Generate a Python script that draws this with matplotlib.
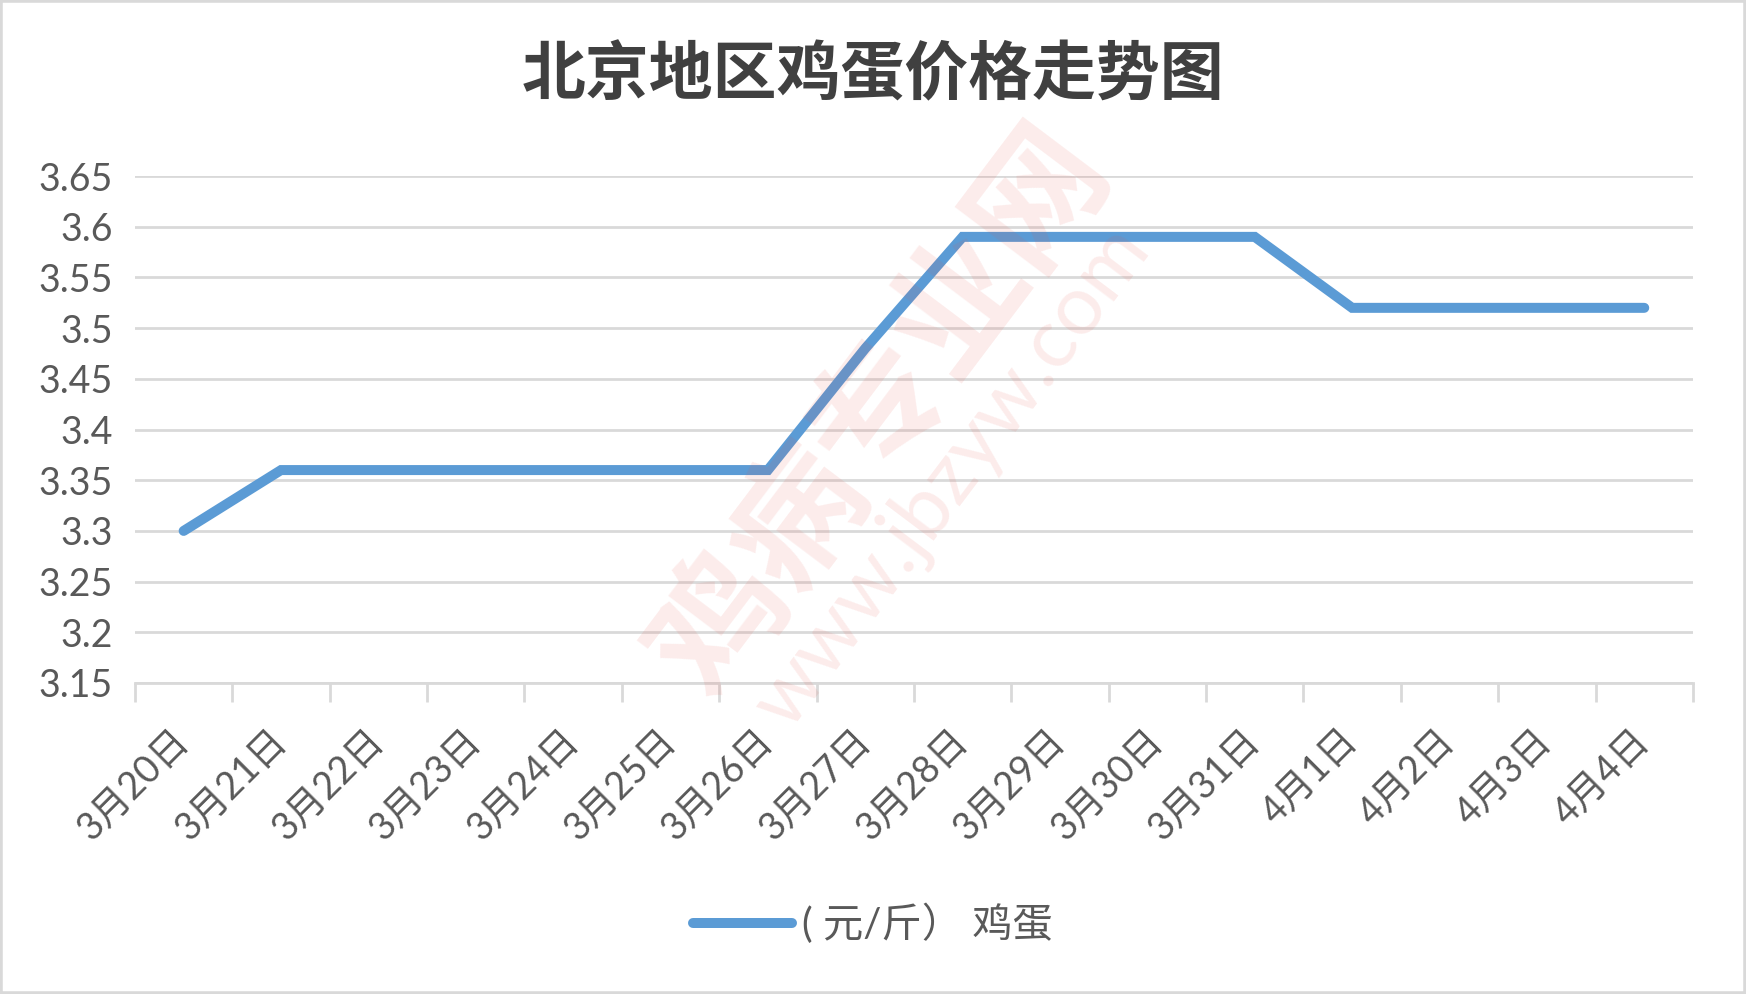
import numpy as np
import matplotlib.pyplot as plt
from matplotlib.patches import Rectangle

plt.rcParams['font.family'] = ['Lato', 'Noto Sans CJK SC', 'DejaVu Sans']

# data
dates = ['3月20日', '3月21日', '3月22日', '3月23日', '3月24日', '3月25日',
         '3月26日', '3月27日', '3月28日', '3月29日', '3月30日', '3月31日',
         '4月1日', '4月2日', '4月3日', '4月4日']
prices = [3.30, 3.36, 3.36, 3.36, 3.36, 3.36, 3.36, 3.48,
          3.59, 3.59, 3.59, 3.59, 3.52, 3.52, 3.52, 3.52]
yticks = [3.15, 3.2, 3.25, 3.3, 3.35, 3.4, 3.45, 3.5, 3.55, 3.6, 3.65]
ytick_labels = ['3.15', '3.2', '3.25', '3.3', '3.35', '3.4', '3.45', '3.5', '3.55', '3.6', '3.65']

blue = '#5B9BD5'
grid_c = '#D9D9D9'
text_c = '#595959'

fig = plt.figure(figsize=(17.46, 9.94), dpi=100)
ax = fig.add_axes([0.0773, 0.3129, 0.8923, 0.510])

x = np.arange(len(dates))
line, = ax.plot(x, prices, color=blue, lw=7.2, solid_capstyle='round',
                solid_joinstyle='miter', zorder=3, label='( 元/斤） 鸡蛋')

ax.set_xlim(-0.5, len(dates) - 0.5)
ax.set_ylim(3.15, 3.65)
ax.set_yticks(yticks)
ax.set_yticklabels(ytick_labels)
ax.yaxis.grid(True, color=grid_c, lw=2)
ax.set_axisbelow(True)
ax.tick_params(axis='y', length=0, pad=16, labelsize=27, labelcolor=text_c)

# category ticks between points
ax.set_xticks(np.arange(-0.5, len(dates), 1.0))
ax.set_xticklabels([])
ax.set_xticks(x, minor=True)
ax.set_xticklabels(dates, minor=True, rotation=45, ha='right', va='center',
                   rotation_mode='anchor')
ax.tick_params(axis='x', which='major', length=14, width=2, color=grid_c)
ax.tick_params(axis='x', which='minor', length=0, pad=38, labelsize=27, labelcolor=text_c)

for s in ['top', 'right', 'left']:
    ax.spines[s].set_visible(False)
ax.spines['bottom'].set_color(grid_c)
ax.spines['bottom'].set_linewidth(2)

# watermark
fig.text(0.505, 0.585, '鸡病专业网', fontsize=96, fontweight='bold', color='#E8534A',
         alpha=0.11, rotation=53, ha='center', va='center', family='Noto Sans CJK SC')
fig.text(0.545, 0.52, 'www.jbzyw.com', fontsize=60, color='#E8534A',
         alpha=0.11, rotation=53, ha='center', va='center')

fig.text(0.5, 0.9235, '北京地区鸡蛋价格走势图', fontsize=46, fontweight='bold',
         color='#404040', ha='center', va='center', family='Noto Sans CJK SC')

fig.legend(handles=[line], loc='center', bbox_to_anchor=(0.5, 0.0704), frameon=False,
           fontsize=29, labelcolor=text_c, handlelength=2.45, handletextpad=0.25)

fig.add_artist(Rectangle((0, 0), 1, 1, transform=fig.transFigure, fill=False,
                         edgecolor=grid_c, lw=4))

fig.savefig('out.png', dpi=100)
